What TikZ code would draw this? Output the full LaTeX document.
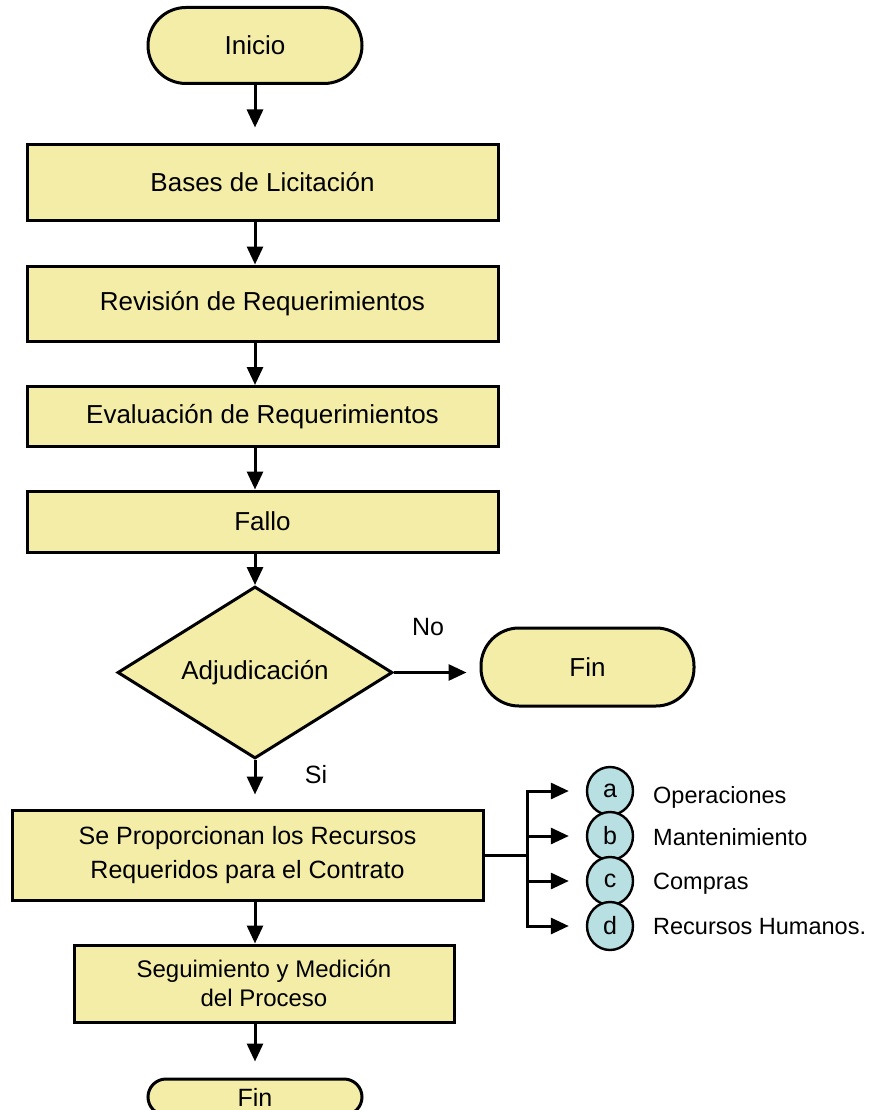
\documentclass[tikz,border=0pt]{standalone}
\usepackage{fontspec}
\setmainfont{Liberation Sans}
\usetikzlibrary{shapes.geometric,arrows.meta}
\definecolor{boxyellow}{RGB}{243,237,168}
\definecolor{circblue}{RGB}{184,223,226}
\begin{document}
\begin{tikzpicture}[x=1pt,y=-1pt,
 basebox/.style={draw=black, line width=3pt, fill=boxyellow, inner sep=0pt, align=center, font=\fontsize{26}{31}\selectfont},
 procbox/.style={basebox, rectangle},
 termbox/.style={basebox, rectangle, rounded corners=38pt},
 decis/.style={basebox, diamond},
 letter/.style={draw=black, line width=2.4pt, fill=circblue, ellipse, minimum width=46pt, minimum height=48pt, inner sep=0pt, font=\fontsize{25}{28}\selectfont},
 lbl/.style={anchor=base west, inner sep=0pt, font=\fontsize{23.5}{28}\selectfont},
 yesno/.style={inner sep=0pt, font=\fontsize{25}{30}\selectfont},
 arr/.style={line width=3pt, -{Triangle[length=18pt,width=16pt]}},
 conn/.style={line width=3pt},
]
\useasboundingbox (0,0) rectangle (879,1110);
\clip (0,0) rectangle (879,1110);

\node[termbox, minimum width=214pt, minimum height=76pt] (inicio) at (255,45.5) {Inicio};
\node[procbox, minimum width=471pt, minimum height=75pt] (bases) at (262.5,182.5) {Bases de Licitación};
\node[procbox, minimum width=471pt, minimum height=75pt] (rev) at (262.5,303.5) {Revisión de Requerimientos};
\node[procbox, minimum width=471pt, minimum height=60pt] (eval) at (262.5,416.5) {Evaluación de Requerimientos};
\node[procbox, minimum width=471pt, minimum height=61pt] (fallo) at (262.5,521.5) {Fallo};
\node[decis, minimum width=275pt, minimum height=151pt] (adj) at (255,672.5) {Adjudicación};
\node[termbox, minimum width=213pt, minimum height=78pt] (fin1) at (587.5,667) {Fin};
\node[procbox, minimum width=471pt, minimum height=90pt, font=\fontsize{25}{34}\selectfont] (prop) at (247.5,855) {Se Proporcionan los Recursos\\Requeridos para el Contrato};
\node[procbox, minimum width=380pt, minimum height=77pt, font=\fontsize{24}{29}\selectfont] (seg) at (264,983.5) {Seguimiento y Medición\\del Proceso};
\node[termbox, minimum width=214pt, minimum height=36pt, rounded corners=18pt, font=\fontsize{25}{30}\selectfont] (fin2) at (255,1097) {Fin};

\node[yesno] (no) at (428,627) {No};
\node[yesno] (si) at (316,775) {Si};

\node[letter] (ca) at (610,791) {a};
\node[letter] (cb) at (610,836) {b};
\node[letter] (cc) at (610,881) {c};
\node[letter] (cd) at (610,926) {d};

\node[lbl] (la) at (653,803.5) {Operaciones};
\node[lbl] (lb) at (653,845.5) {Mantenimiento};
\node[lbl] (lc) at (653,889.5) {Compras};
\node[lbl] (ld) at (653,934.5) {Recursos Humanos.};

\draw[arr] (inicio.south) -- ([yshift=16pt]bases.north -| inicio.south);
\draw[arr] (bases.south -| inicio.south) -- (rev.north -| inicio.south);
\draw[arr] (rev.south -| inicio.south) -- (eval.north -| inicio.south);
\draw[arr] (eval.south -| inicio.south) -- (fallo.north -| inicio.south);
\draw[arr] (fallo.south -| adj.north) -- (adj.north);
\draw[arr] (adj.east) -- ([xshift=-13pt]fin1.west |- adj.east);
\draw[arr] (adj.south) -- ([yshift=14pt]prop.north -| adj.south);
\draw[arr] (prop.south -| adj.south) -- (seg.north -| adj.south);
\draw[arr] (seg.south -| adj.south) -- ([yshift=16pt]fin2.north);

\coordinate (j) at (527,855);
\draw[conn] (prop.east) -- (j);
\draw[arr] (j |- cc) -- (j |- ca) -- ([xshift=-17pt]ca.west);
\draw[arr] (j) -- (j |- cb) -- ([xshift=-17pt]cb.west);
\draw[arr] (j) -- (j |- cc) -- ([xshift=-17pt]cc.west);
\draw[arr] (j |- cb) -- (j |- cd) -- ([xshift=-17pt]cd.west);
\end{tikzpicture}
\end{document}
